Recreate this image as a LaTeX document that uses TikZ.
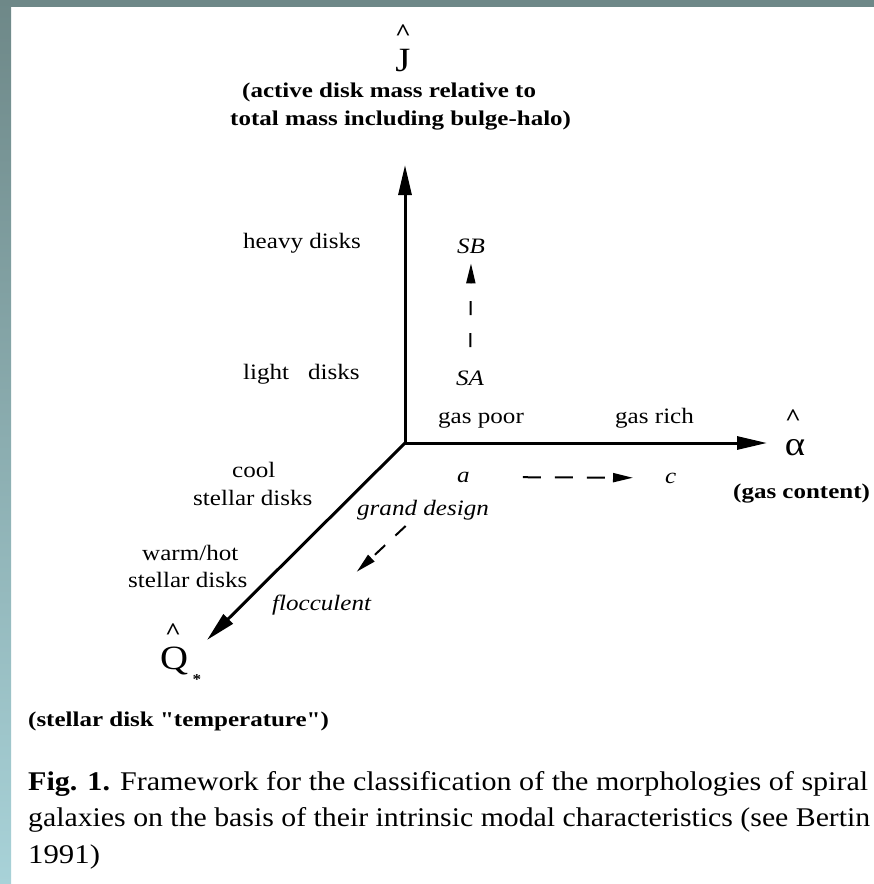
\documentclass[tikz,border=0pt]{standalone}
\usepackage{fontspec}
\usepackage{graphicx}
\setmainfont{Liberation Serif}
\newfontfamily\lblfont[FakeStretch=1.14]{Liberation Serif}
\newfontfamily\boldlbl[FakeStretch=1.19]{Liberation Serif}
\usetikzlibrary{arrows.meta}
\definecolor{stripTop}{RGB}{110,136,136}
\definecolor{stripBot}{RGB}{168,210,216}
\tikzset{
  lbl/.style={inner sep=0pt, anchor=base west, font=\lblfont\fontsize{22pt}{26pt}\selectfont},
  ilbl/.style={inner sep=0pt, anchor=base west, font=\lblfont\itshape\fontsize{22pt}{26pt}\selectfont},
  blbl/.style={inner sep=0pt, anchor=base west, font=\boldlbl\bfseries\fontsize{21pt}{25pt}\selectfont},
  caplbl/.style={inner sep=0pt, anchor=base west, font=\lblfont\fontsize{27pt}{36pt}\selectfont},
  symb/.style={inner sep=0pt, anchor=base, font=\lblfont\fontsize{34pt}{38pt}\selectfont},
  hatmark/.style={inner sep=0pt, anchor=base, font=\lblfont\bfseries\fontsize{24pt}{26pt}\selectfont},
  axisarrow/.style={line width=3pt, line cap=round, -{Triangle[length=30pt,width=13pt]}},
  dasharrow/.style={line width=2pt, -{Triangle[length=20pt,width=9pt]}},
}
\begin{document}
\begin{tikzpicture}[x=1pt,y=-1pt]
\path[use as bounding box] (0,0) rectangle (874,884);
\fill[white] (0,0) rectangle (874,884);
\fill[stripTop] (0,0) rectangle (874,7);
\shade[top color=stripTop, bottom color=stripBot] (0,0) rectangle (11,884);

% axes
\coordinate (O) at (405,443);
\coordinate (Jend) at (405,165);
\coordinate (Aend) at (767,443);
\coordinate (Qend) at (207,640);
\draw[axisarrow] (O) -- (Jend);
\draw[axisarrow] (O) -- (Aend);
\draw[axisarrow] (O) -- (Qend);

% axis symbols
\node[hatmark] (Jhat) at (403,40) {\textasciicircum};
\node[symb] (J) at (403,71) {J};
\node[hatmark] (Ahat) at (793,425) {\textasciicircum};
\node[symb] (alpha) at (795,455) {α};
\node[hatmark] (Qhat) at (173,639) {\textasciicircum};
\node[symb] (Q) at (174,669) {Q};
\node[inner sep=0pt, anchor=base, font=\lblfont\bfseries\fontsize{15pt}{16pt}\selectfont] (Qstar) at (197,684) {*};

% axis descriptions
\node[blbl] (act1) at (242,97) {(active disk mass relative to};
\node[blbl] (act2) at (230,125) {total mass including bulge-halo)};
\node[blbl] (gascont) at (733,498) {(gas content)};
\node[blbl] (stemp) at (28,726) {(stellar disk "temperature")};

% labels
\node[lbl] (heavy) at (243,248) {heavy disks};
\node[lbl] (light) at (243,379) {light~~~disks};
\node[ilbl] (SB) at (457,253) {SB};
\node[ilbl] (SA) at (456,385) {SA};
\node[lbl] (gaspoor) at (438,423) {gas poor};
\node[lbl] (gasrich) at (615,423) {gas rich};
\node[ilbl] (a) at (457,482) {a};
\node[ilbl] (c) at (665,483) {c};
\node[lbl] (cool) at (232,477) {cool};
\node[lbl] (stel1) at (193,505) {stellar disks};
\node[ilbl] (grand) at (357,515) {grand design};
\node[lbl] (warm) at (142,560) {warm/hot};
\node[lbl] (stel2) at (128,587) {stellar disks};
\node[ilbl] (flocc) at (272,610) {flocculent};

% dashed arrows
\draw[dasharrow, dash pattern=on 14pt off 18pt, shorten <=23pt, shorten >=10pt] (SA) -- (SB);
\draw[dasharrow, dash pattern=on 18pt off 14pt, shorten <=53pt, shorten >=32pt] (a) -- (c);
\draw[dasharrow, dash pattern=on 14pt off 14pt, shorten <=9pt, shorten >=33pt] (grand) -- (flocc);

% caption
\node[caplbl] (cap1) at (28,790) {\resizebox{840pt}{\height}{\textbf{Fig. 1.} Framework for the classification of the morphologies of spiral}};
\node[caplbl] (cap2) at (28,826) {\resizebox{842pt}{\height}{galaxies on the basis of their intrinsic modal characteristics (see Bertin}};
\node[caplbl] (cap3) at (28,863) {1991)};
\end{tikzpicture}
\end{document}
